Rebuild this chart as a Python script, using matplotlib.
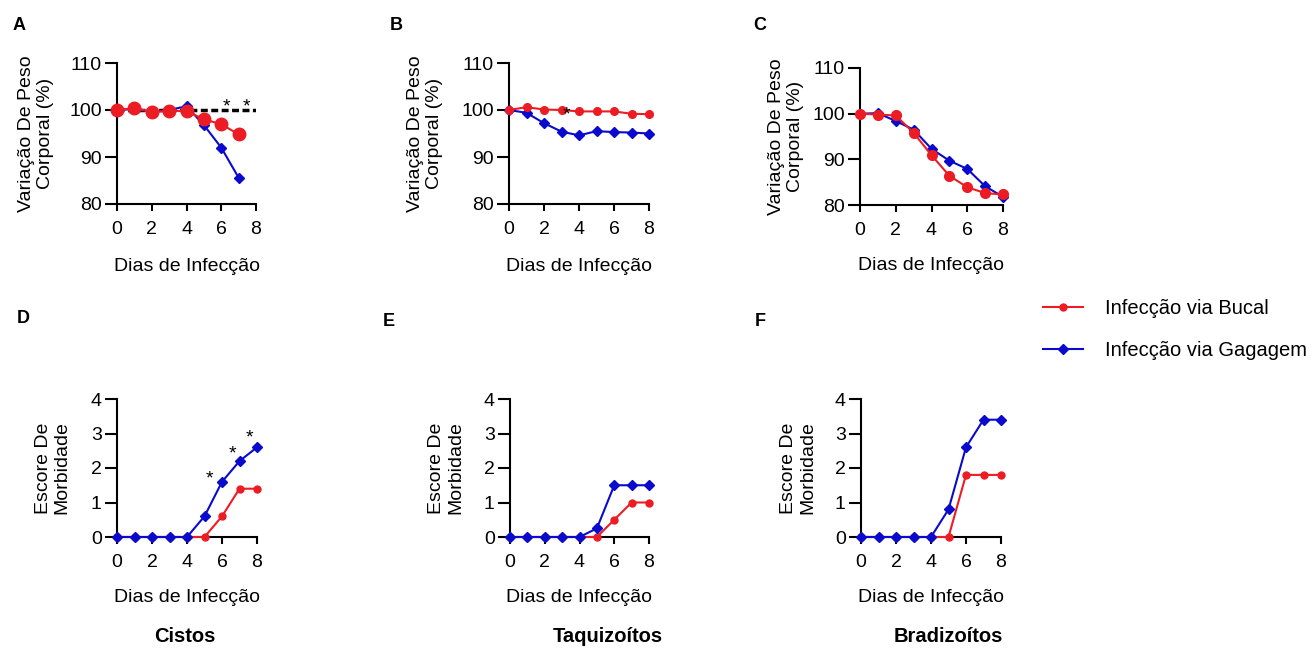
import matplotlib
matplotlib.use("Agg")
import matplotlib.pyplot as plt

plt.rcParams['font.family'] = ['Liberation Sans', 'DejaVu Sans']

# dados
dias = [0, 1, 2, 3, 4, 5, 6, 7, 8]
dias_a = [0, 1, 2, 3, 4, 5, 6, 7]

peso_bucal_a = [100.0, 100.4, 99.6, 99.8, 99.8, 98.0, 97.0, 94.8]
peso_gavagem_a = [100.0, 100.2, 99.6, 100.0, 100.8, 96.8, 92.0, 85.6]

peso_bucal_b = [100.0, 100.6, 100.1, 100.0, 99.7, 99.7, 99.7, 99.2, 99.1]
peso_gavagem_b = [100.0, 99.4, 97.2, 95.4, 94.6, 95.5, 95.3, 95.2, 95.0]

peso_bucal_c = [100.0, 99.8, 99.6, 95.8, 90.9, 86.4, 83.9, 82.6, 82.3]
peso_gavagem_c = [100.0, 100.1, 98.4, 96.5, 92.3, 89.7, 87.9, 84.1, 81.8]

escore_bucal_d = [0, 0, 0, 0, 0, 0, 0.6, 1.4, 1.4]
escore_gavagem_d = [0, 0, 0, 0, 0, 0.6, 1.6, 2.2, 2.6]
escore_bucal_e = [0, 0, 0, 0, 0, 0, 0.5, 1.0, 1.0]
escore_gavagem_e = [0, 0, 0, 0, 0, 0.25, 1.5, 1.5, 1.5]
escore_bucal_f = [0, 0, 0, 0, 0, 0, 1.8, 1.8, 1.8]
escore_gavagem_f = [0, 0, 0, 0, 0, 0.8, 2.6, 3.4, 3.4]

# asteriscos (x, y da linha de base)
ast_a = [(6.3, 99.6), (7.45, 99.6)]
ast_b = [(3.3, 98.0)]
ast_d = [(5.3, 1.55), (6.57, 2.28), (7.58, 2.75)]

vermelho = '#ec1c24'
azul = '#0a0acc'
fs = 14

fig = plt.figure(figsize=(13.14, 6.54), dpi=100)
W, H = 1314, 654


def eixo(l, t, r, b):
    return fig.add_axes([l / W, 1 - b / H, (r - l) / W, (b - t) / H])


def estilo(ax, ylim, yticks, ylabel, lab_x):
    ax.set_xlim(0, 8)
    ax.set_ylim(*ylim)
    ax.set_xticks([0, 2, 4, 6, 8])
    ax.set_yticks(yticks)
    for s in ['top', 'right']:
        ax.spines[s].set_visible(False)
    for s in ['left', 'bottom']:
        ax.spines[s].set_linewidth(1.5)
    ax.tick_params(axis='x', length=5, width=1.5, pad=7.5, labelsize=fs)
    ax.tick_params(axis='y', length=8.5, width=1.5, pad=2.5, labelsize=fs)
    ax.set_xlabel('Dias de Infecção', fontsize=fs)
    ax.xaxis.set_label_coords(0.5, -0.38)
    ax.set_ylabel(ylabel, fontsize=fs, linespacing=1.15)
    ax.yaxis.set_label_coords(lab_x, 0.5)


peso_lbl = 'Variação De Peso\nCorporal (%)'
esc_lbl = 'Escore De\nMorbidade'

# A
ax = eixo(117, 63, 256, 204)
ax.axhline(100, color='black', lw=2.5, ls=(0, (2, 1)), zorder=1)
ax.plot(dias_a, peso_gavagem_a, color=azul, marker='D', ms=5, lw=1.5, clip_on=False, zorder=3)
ax.plot(dias_a, peso_bucal_a, color=vermelho, marker='o', ms=9, lw=1.5, clip_on=False, zorder=4)
for x, y in ast_a:
    ax.text(x, y, '*', fontsize=fs, ha='center', va='baseline')
estilo(ax, (80, 110), [80, 90, 100, 110], peso_lbl, -0.45)

# B
ax = eixo(509, 63, 649, 204)
ax.plot(dias, peso_gavagem_b, color=azul, marker='D', ms=5, lw=1.5, clip_on=False, zorder=3)
ax.plot(dias, peso_bucal_b, color=vermelho, marker='o', ms=5.5, lw=1.5, clip_on=False, zorder=4)
for x, y in ast_b:
    ax.text(x, y, '*', fontsize=fs, ha='center', va='baseline', zorder=5)
estilo(ax, (80, 110), [80, 90, 100, 110], peso_lbl, -0.47)

# C
ax = eixo(860, 68, 1003, 205)
ax.plot(dias, peso_gavagem_c, color=azul, marker='D', ms=5, lw=1.5, clip_on=False, zorder=3)
ax.plot(dias, peso_bucal_c, color=vermelho, marker='o', ms=7, lw=1.5, clip_on=False, zorder=4)
estilo(ax, (80, 110), [80, 90, 100, 110], peso_lbl, -0.39)

# D, E, F
paineis = [
    ((117, 399, 257, 537), escore_bucal_d, escore_gavagem_d, ast_d, -0.33),
    ((510, 399, 649, 537), escore_bucal_e, escore_gavagem_e, [], -0.33),
    ((861, 399, 1001, 537), escore_bucal_f, escore_gavagem_f, [], -0.32),
]
handles = None
for rect, buc, gav, ast, lx in paineis:
    ax = eixo(*rect)
    lb, = ax.plot(dias, buc, color=vermelho, marker='o', ms=5, lw=1.5, clip_on=False, zorder=3,
                  label='Infecção via Bucal')
    lg, = ax.plot(dias, gav, color=azul, marker='D', ms=5, lw=1.5, clip_on=False, zorder=4,
                  label='Infecção via Gagagem')
    for x, y in ast:
        ax.text(x, y, '*', fontsize=fs, ha='center', va='baseline')
    estilo(ax, (0, 4), [0, 1, 2, 3, 4], esc_lbl, lx)
    if handles is None:
        handles = [lb, lg]

fig.legend(handles=handles, loc='upper left', bbox_to_anchor=(1043 / W, 1 - 299 / H),
           frameon=False, fontsize=14.5, handlelength=2.0, handletextpad=1.1,
           labelspacing=1.15, borderpad=0, borderaxespad=0)

# letras dos painéis
for letra, x, y in [('A', 13, 25), ('B', 390, 26), ('C', 753, 26),
                    ('D', 17, 319), ('E', 383, 322), ('F', 755, 322)]:
    fig.text(x / W, 1 - y / H, letra, fontsize=13, fontweight='bold', va='center')

for titulo, x in [('Cistos', 185), ('Taquizoítos', 608), ('Bradizoítos', 948)]:
    fig.text(x / W, 1 - 636 / H, titulo, fontsize=14.5, fontweight='bold', ha='center', va='center')

fig.savefig('out.png', dpi=100)
